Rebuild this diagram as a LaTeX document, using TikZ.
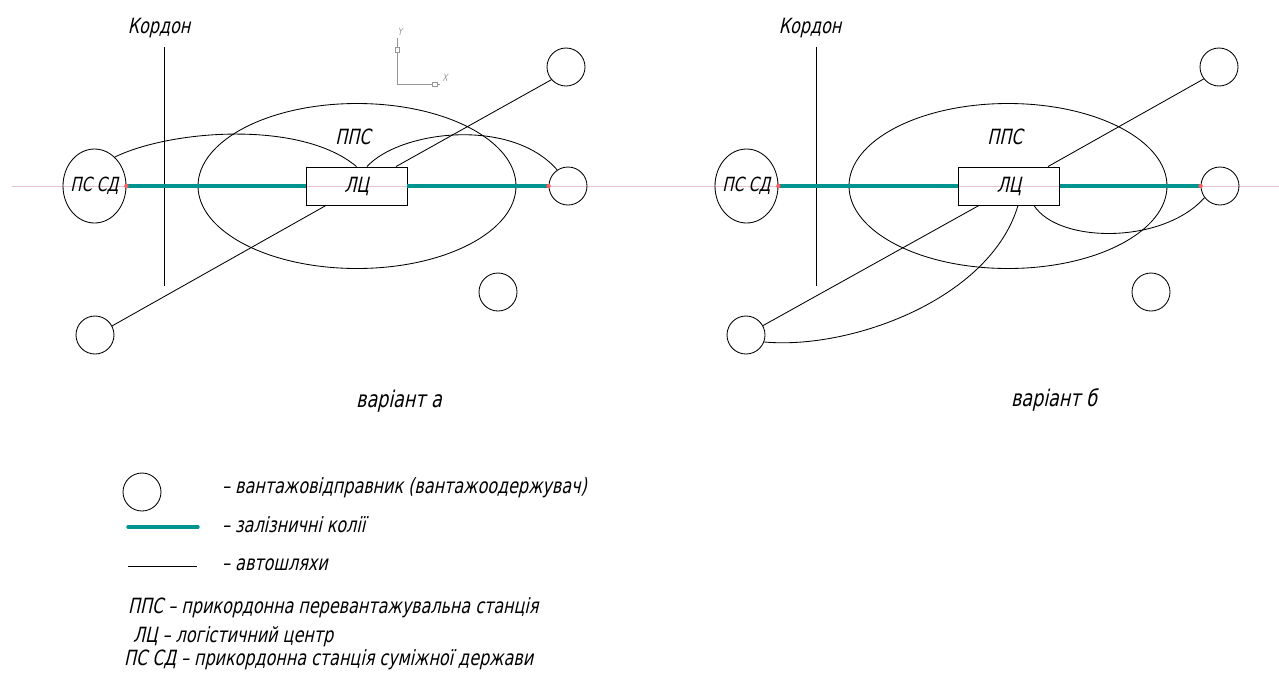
\documentclass[tikz,border=0pt]{standalone}
\usepackage{fontspec}
\setmainfont{DejaVu Sans}[FakeSlant=0.22,FakeStretch=0.76]
\usetikzlibrary{shapes.geometric}
\definecolor{railc}{RGB}{0,148,145}
\definecolor{axisc}{RGB}{150,150,150}
\definecolor{guidec}{RGB}{232,192,206}
\definecolor{markc}{RGB}{250,95,95}
\newcommand\gostsize{\fontsize{21}{24}\selectfont}
\newcommand\smallgost{\fontsize{19.5}{22}\selectfont}
\newcommand\biggost{\fontsize{23}{26}\selectfont}
\newcommand\axsize{\fontsize{10}{12}\selectfont}
\begin{document}
\begin{tikzpicture}[x=1pt,y=-1pt,
  road/.style={draw=black, line width=0.85pt},
  rail/.style={draw=railc, line width=3.8pt},
  guide/.style={draw=guidec, line width=0.8pt},
  client/.style={circle, draw, line width=0.85pt, minimum size=38pt, inner sep=0pt},
  hub/.style={rectangle, draw, line width=0.9pt, minimum width=101pt, minimum height=38pt, inner sep=0pt, font=\gostsize},
  zone/.style={ellipse, draw, line width=0.85pt, minimum width=318pt, minimum height=165pt, inner sep=0pt},
  neighbour/.style={ellipse, draw, line width=0.85pt, minimum width=63pt, minimum height=74pt, inner xsep=-9pt, inner ysep=0pt, font=\smallgost},
  lbl/.style={inner sep=0pt, font=\gostsize},
  railend/.style={circle, fill=markc, inner sep=0pt, minimum size=4.5pt},
  axis/.style={draw=axisc, line width=0.8pt}]
\useasboundingbox (0,0) rectangle (1279,678);

% thin centre line through both schemes
\coordinate (g1) at (12,186);
\coordinate (g2) at (1279,186);
\draw[guide] (g1) -- (g2);

% ---------------- scheme a ----------------
\node[zone] (zone1) at (357,186) {};
\node[neighbour] (nb1) at (94.5,186) {ПС СД};
\node[hub] (lc1) at (356.5,186) {ЛЦ};
\node[client] (ct1) at (566,67) {};
\node[client] (cr1) at (568,186) {};
\node[client] (cb1) at (498,292) {};
\node[client] (cl1) at (95,335) {};
\coordinate (k1a) at (164,47);
\coordinate (k1b) at (164,286);
\draw[road] (k1a) -- (k1b);
\node[lbl, anchor=base] (kt1) at (159,33) {Кордон};
\node[lbl, anchor=base] (zt1) at (353,144) {ППС};

\draw[rail] (nb1.east) -- (lc1.west);
\draw[rail] (lc1.east) -- (cr1.west);
\node[railend] (re1) at (nb1.east) {};
\node[railend] (re2) at (cr1.west) {};

\draw[road] (nb1.55) .. controls +(55,-27) and +(-56,-47) .. (lc1.north);
\draw[road] ([xshift=10.5pt]lc1.north) .. controls +(33,-36) and +(-46,-53) .. (cr1.124);
\draw[road] ([xshift=39.5pt]lc1.north) -- (ct1.221);
\draw[road] ([xshift=-30.5pt]lc1.south) -- (cl1.28);

% coordinate system marker
\coordinate (ax0) at (397,84);
\coordinate (axy) at (397,38);
\coordinate (axx) at (440,84);
\draw[axis] (ax0) -- (axy);
\draw[axis] (ax0) -- (axx);
\draw[axis, fill=white, line width=0.6pt] (395,47) rectangle (399,52);
\draw[axis, fill=white, line width=0.6pt] (432,82) rectangle (437,86);
\node[inner sep=0pt, text=axisc, font=\axsize] (ayl) at (400,32) {Y};
\node[inner sep=0pt, text=axisc, font=\axsize] (axl) at (445,78) {X};

\node[lbl, anchor=base, font=\biggost] (va) at (399,407) {варіант а};

% ---------------- scheme b ----------------
\node[zone] (zone2) at (1008,186) {};
\node[neighbour] (nb2) at (746.5,186) {ПС СД};
\node[hub] (lc2) at (1009,186) {ЛЦ};
\node[client] (ct2) at (1219,67) {};
\node[client] (cr2) at (1220,186) {};
\node[client] (cb2) at (1151,292) {};
\node[client] (cl2) at (746,335) {};
\coordinate (k2a) at (816,47);
\coordinate (k2b) at (816,286);
\draw[road] (k2a) -- (k2b);
\node[lbl, anchor=base] (kt2) at (810,33) {Кордон};
\node[lbl, anchor=base] (zt2) at (1005,144) {ППС};

\draw[rail] (nb2.east) -- (lc2.west);
\draw[rail] (lc2.east) -- (cr2.west);
\node[railend] (re3) at (nb2.east) {};
\node[railend] (re4) at (cr2.west) {};

\draw[road] ([xshift=39pt]lc2.north) -- (ct2.218);
\draw[road] ([xshift=-30pt]lc2.south) -- (cl2.29);
\draw[road] ([xshift=9pt]lc2.south) .. controls +(-28,94) and +(86,8) .. (cl2.339);
\draw[road] ([xshift=25pt]lc2.south) .. controls +(24,38) and +(-42,47) .. (cr2.217);

\node[lbl, anchor=base, font=\biggost] (vb) at (1054,406) {варіант б};

% ---------------- legend ----------------
\node[client] (lgc) at (142,492) {};
\node[lbl, anchor=base west] (lgt1) at (222,493) {– вантажовідправник (вантажоодержувач)};
\coordinate (lr1) at (128,527);
\coordinate (lr2) at (198,527);
\draw[rail, line width=3.4pt, line cap=round] (lr1) -- (lr2);
\node[lbl, anchor=base west] (lgt2) at (222,532) {– залізничні колії};
\coordinate (la1) at (128,566);
\coordinate (la2) at (197,566);
\draw[road] (la1) -- (la2);
\node[lbl, anchor=base west] (lgt3) at (222,570) {– автошляхи};
\node[lbl, anchor=base west] (ab1) at (128,613) {ППС – прикордонна перевантажувальна станція};
\node[lbl, anchor=base west] (ab2) at (133,642) {ЛЦ – логістичний центр};
\node[lbl, anchor=base west] (ab3) at (124,665) {ПС СД – прикордонна станція суміжної держави};
\end{tikzpicture}
\end{document}
